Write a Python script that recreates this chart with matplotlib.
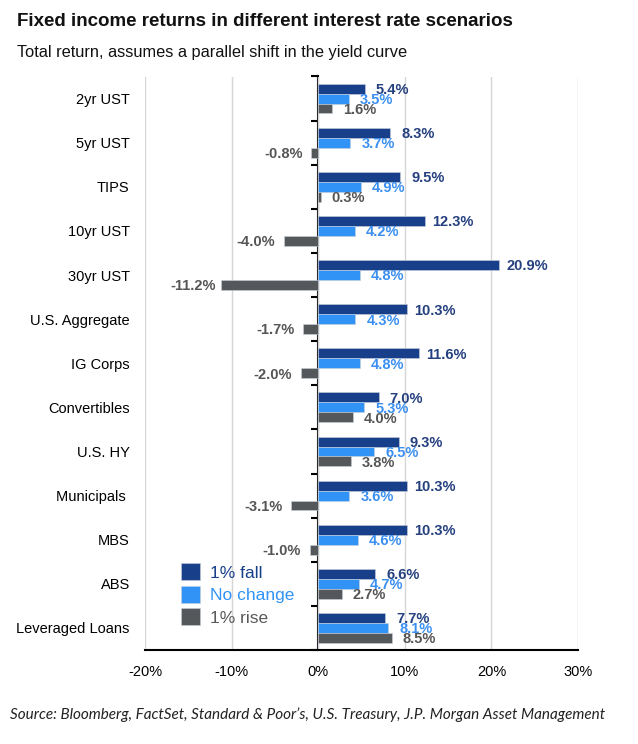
import matplotlib
matplotlib.use("Agg")
import matplotlib.pyplot as plt
import numpy as np

categories = ["2yr UST", "5yr UST", "TIPS", "10yr UST", "30yr UST", "U.S. Aggregate",
              "IG Corps", "Convertibles", "U.S. HY", "Municipals ", "MBS", "ABS", "Leveraged Loans"]
fall_1pct = [5.4, 8.3, 9.5, 12.3, 20.9, 10.3, 11.6, 7.0, 9.3, 10.3, 10.3, 6.6, 7.7]
no_change = [3.5, 3.7, 4.9, 4.2, 4.8, 4.3, 4.8, 5.3, 6.5, 3.6, 4.6, 4.7, 8.1]
rise_1pct = [1.6, -0.8, 0.3, -4.0, -11.2, -1.7, -2.0, 4.0, 3.8, -3.1, -1.0, 2.7, 8.5]
series_names = ["1% fall", "No change", "1% rise"]
x_ticks = [-20, -10, 0, 10, 20, 30]

c_dark = "#173f8a"
c_light = "#3193f5"
c_grey = "#54585b"
lab_dark = "#25407f"
lab_light = "#3a8ff0"
lab_grey = "#555555"

plt.rcParams['font.family'] = ['Liberation Sans', 'DejaVu Sans']

fig = plt.figure(figsize=(6.38, 7.44), dpi=100)
ax = fig.add_axes([145/638, 1-650/744, 433/638, (650-76.5)/744])

y = np.arange(len(categories))
h = 0.225
series = [fall_1pct, no_change, rise_1pct]
colors = [c_dark, c_light, c_grey]
lcolors = [lab_dark, lab_light, lab_grey]
offsets = [-h, 0, h]
handles = []
for vals, col, lc, off, name in zip(series, colors, lcolors, offsets, series_names):
    bars = ax.barh(y + off, vals, height=h, color=col, edgecolor="#c8cfdc", linewidth=0.4, label=name, zorder=3)
    handles.append(bars)
    for yi, v in zip(y, vals):
        sign = 1 if v >= 0 else -1
        ax.annotate(f"{v:.1f}%", xy=(v, yi + off), xytext=(sign * 20, -1),
                    textcoords="offset points", ha="center", va="center",
                    fontsize=10.5, fontweight="bold", color=lc, zorder=4)

ax.set_xlim(-20, 30)
ax.set_ylim(len(categories) - 0.5, -0.5)
ax.set_xticks(x_ticks)
ax.set_xticklabels([f"{t}%" for t in x_ticks], fontsize=10.5)
ax.tick_params(axis="x", length=0, pad=11)
ax.set_yticks(y)
ax.set_yticklabels(categories, fontsize=10.5)
ax.tick_params(axis="y", length=0, pad=11)
ax.xaxis.grid(True, color="#d6d6d6", linewidth=1.0, zorder=0)
for s in ["top", "right", "left"]:
    ax.spines[s].set_visible(False)
ax.spines["bottom"].set_color("black")
ax.spines["bottom"].set_linewidth(1.5)

sec = ax.secondary_yaxis(0.4)
sec.spines["left"].set_linewidth(1.5)
sec.set_yticks(np.arange(len(categories) + 1) - 0.5)
sec.set_yticklabels([])
sec.tick_params(axis="y", length=5, width=1.5, direction="out")

leg = ax.legend(handles=handles, loc="upper left", bbox_to_anchor=(0.066, 0.163),
                frameon=False, fontsize=12.5, handlelength=1.1, handleheight=1.1,
                handletextpad=0.6, labelspacing=0.3, borderaxespad=0)
for t, lc in zip(leg.get_texts(), [c_dark, c_light, "#58595b"]):
    t.set_color(lc)

fig.text(17/638, 1-22/744, "Fixed income returns in different interest rate scenarios",
         fontsize=13.5, fontweight="bold", va="center", ha="left", color="#111111")
fig.text(17/638, 1-52/744, "Total return, assumes a parallel shift in the yield curve",
         fontsize=11.8, va="center", ha="left", color="#111111")
fig.text(10/638, 1-715/744,
         "Source: Bloomberg, FactSet, Standard & Poor\u2019s, U.S. Treasury, J.P. Morgan Asset Management",
         fontsize=11, style="italic", family=["Lato", "DejaVu Sans"], va="center", ha="left", color="#222222")

fig.savefig("out.png", dpi=100)
